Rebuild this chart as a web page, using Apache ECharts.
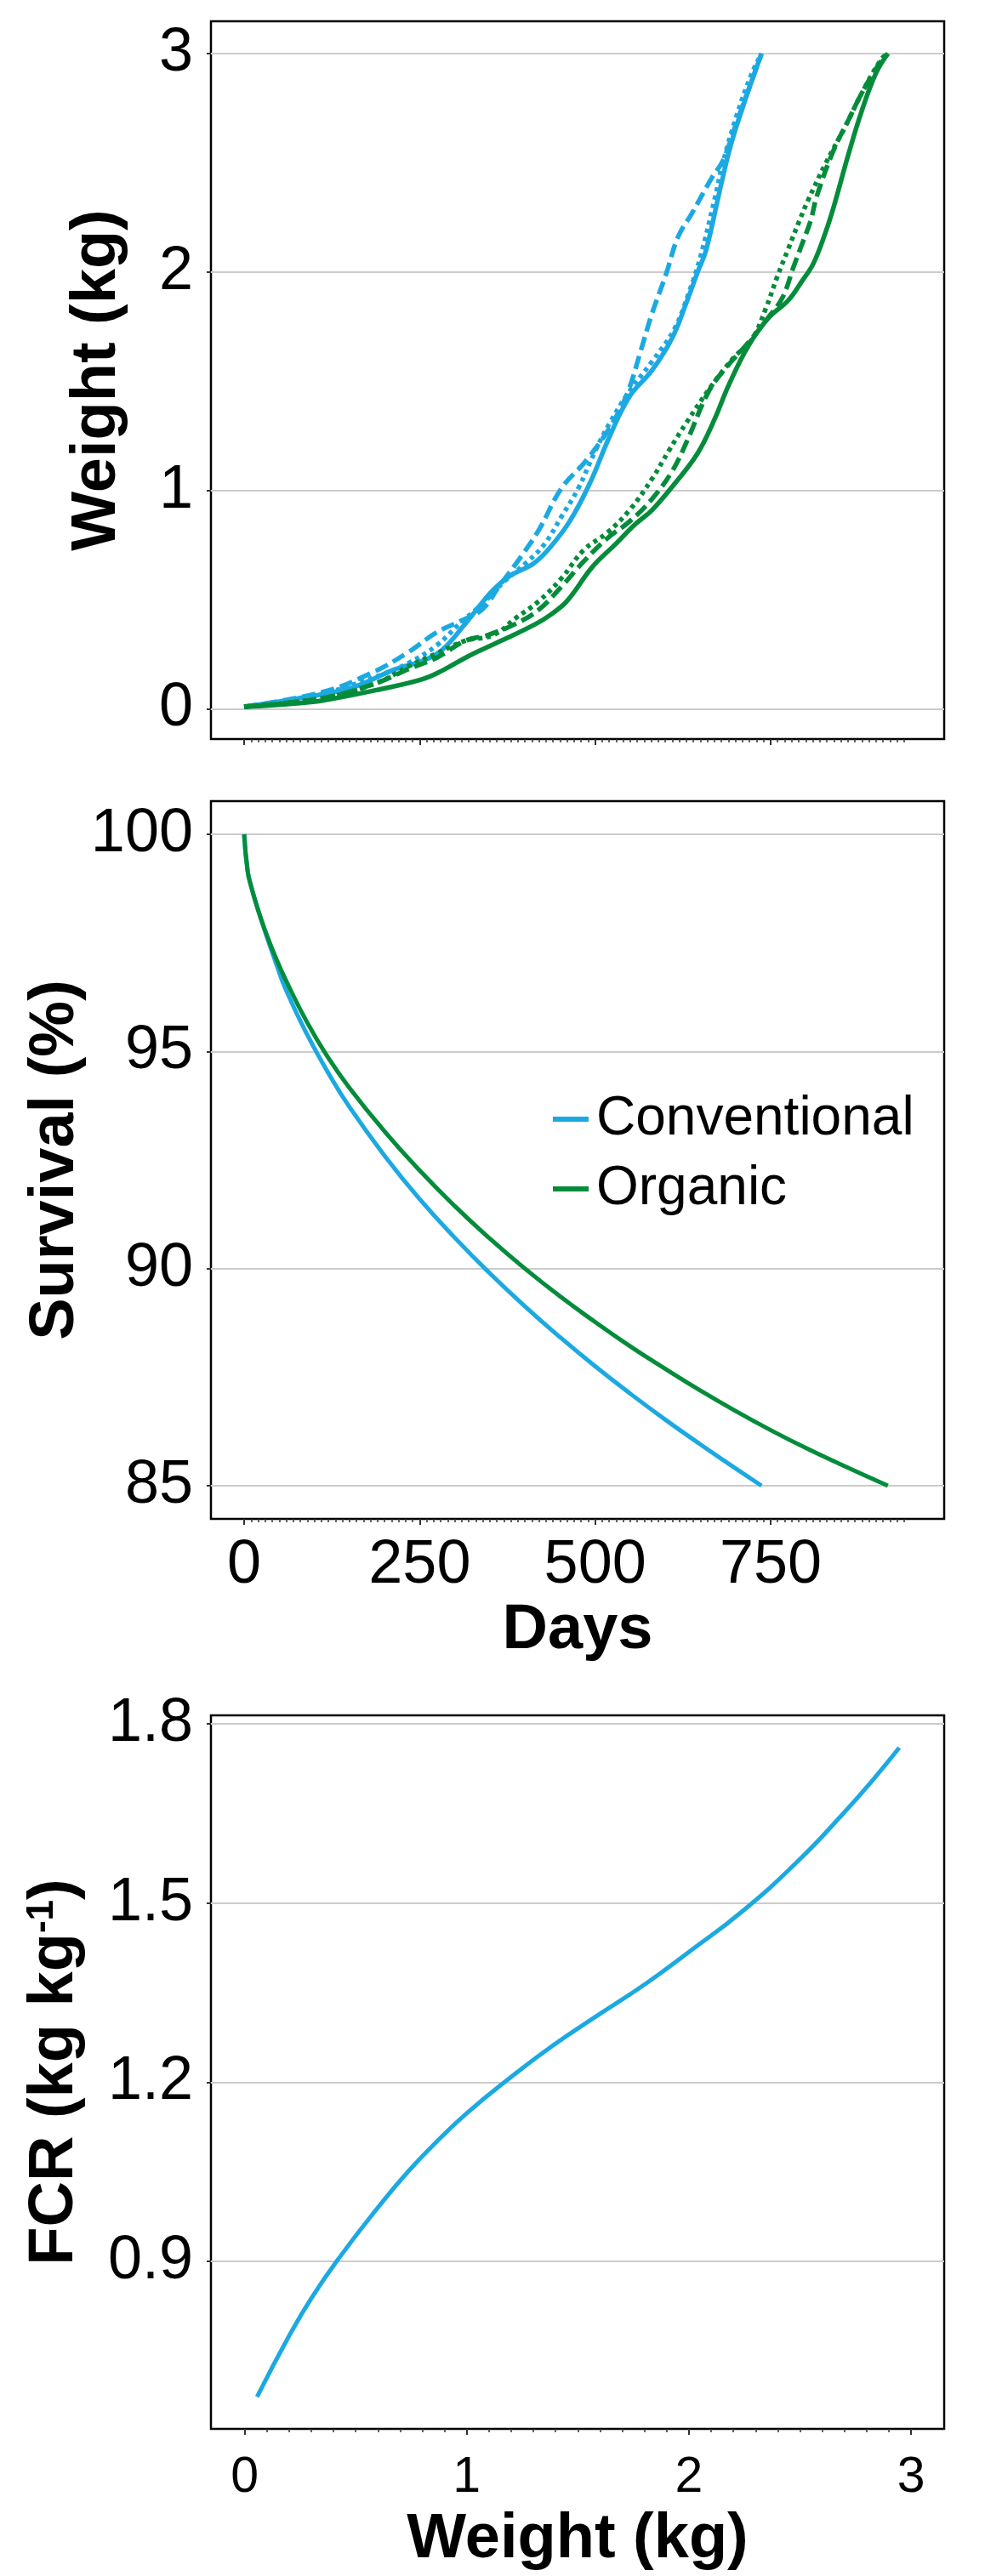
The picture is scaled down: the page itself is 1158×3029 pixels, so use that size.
<!DOCTYPE html>
<html>
<head>
<meta charset="utf-8">
<script src="https://cdn.jsdelivr.net/npm/echarts@6/dist/echarts.min.js"></script>
<style>
html,body{margin:0;padding:0;background:#fff;}
#chart{width:1158px;height:3029px;}
</style>
</head>
<body>
<div id="chart"></div>
<script>
// ---------------- data ----------------
// Panel 1: weight (kg) vs days
const convSolidDays = [0,72,153,214,254,282,315,335,355,379,412,436,464,492,521,549,581,610,630,646,658,678,694,714,737];
const convSolidKg   = [0.01,0.045,0.097,0.18,0.22,0.27,0.39,0.47,0.545,0.61,0.665,0.74,0.86,1.03,1.25,1.43,1.55,1.70,1.86,2.0,2.10,2.38,2.59,2.79,3.0];

const convDashDays = [0,113,185,234,274,307,339,363,395,420,452,488,525,547,565,581,601,618,638,666,682,702,727,737];
const convDashKg   = [0.01,0.078,0.17,0.26,0.35,0.40,0.455,0.56,0.70,0.82,1.01,1.14,1.31,1.455,1.64,1.81,1.99,2.16,2.27,2.43,2.51,2.69,2.91,3.0];

const convDotDays = [0,100,190,234,274,307,339,371,404,428,452,476,500,521,549,581,613,634,650,670,682,702,722,737];
const convDotKg   = [0.01,0.06,0.15,0.21,0.29,0.39,0.48,0.585,0.675,0.755,0.88,1.01,1.18,1.31,1.455,1.59,1.74,1.91,2.07,2.33,2.50,2.72,2.90,3.0];

const orgSolidDays = [0,72,113,194,254,282,315,335,375,416,436,460,496,529,557,581,613,646,670,690,718,747,775,795,811,828,840,860,880,900,917];
const orgSolidKg   = [0.01,0.025,0.039,0.09,0.136,0.175,0.234,0.266,0.325,0.39,0.43,0.494,0.65,0.754,0.845,0.91,1.03,1.17,1.325,1.48,1.66,1.79,1.87,1.96,2.04,2.18,2.30,2.53,2.74,2.91,3.0];

const orgDashDays = [0,113,190,234,274,315,347,387,420,452,484,517,549,581,610,630,662,686,718,747,767,783,795,807,816,840,860,880,904,917];
const orgDashKg   = [0.01,0.05,0.12,0.182,0.234,0.312,0.338,0.39,0.455,0.56,0.676,0.78,0.858,0.961,1.09,1.22,1.455,1.56,1.676,1.793,1.884,2.027,2.13,2.235,2.35,2.56,2.69,2.82,2.95,3.0];

const orgDotDays = [0,113,190,234,274,315,355,387,420,452,484,517,549,581,605,630,666,698,723,743,759,775,791,803,828,856,880,908,917];
const orgDotKg   = [0.01,0.05,0.12,0.195,0.253,0.312,0.338,0.416,0.494,0.598,0.728,0.806,0.91,1.053,1.182,1.31,1.48,1.61,1.69,1.832,1.975,2.105,2.235,2.326,2.495,2.664,2.82,2.976,3.0];

// Panel 2: survival (%) vs days
const convSurvDays = [0,5,10,20,30,45,60,90,120,150,200,250,300,350,400,450,500,550,600,650,700,737];
const convSurvPct  = [100,99.15,98.8,98.25,97.75,97.05,96.4,95.38,94.5,93.72,92.6,91.6,90.71,89.89,89.13,88.42,87.75,87.12,86.52,85.95,85.4,85.0];
const orgSurvDays = [0,5,10,20,30,45,60,90,120,150,200,250,300,350,400,450,500,550,600,650,700,750,800,850,917];
const orgSurvPct  = [100,99.15,98.8,98.25,97.78,97.16,96.62,95.66,94.85,94.16,93.16,92.26,91.44,90.69,90.0,89.36,88.77,88.21,87.69,87.19,86.72,86.28,85.87,85.49,85.0];

// Panel 3: FCR vs weight
const fcrWeight = [0.056,0.2,0.3,0.43,0.6,0.74,0.88,1.0,1.18,1.39,1.59,1.81,2.0,2.24,2.49,2.69,2.83,2.947];
const fcrValue  = [0.673,0.775,0.838,0.908,0.99,1.052,1.106,1.148,1.203,1.262,1.312,1.366,1.418,1.486,1.57,1.648,1.707,1.76];

// tick labels
const dayMajorTicks = [0,250,500,750];
const weightYTicks = [0,1,2,3];
const survYTicks = [85,90,95,100];
const fcrYTicks = [0.9,1.2,1.5,1.8];
const weightXTicks = [0,1,2,3];
const dayMinorTicks = [];
for (let d = 0; d <= 940; d += 10) dayMinorTicks.push(d);
const weightMinorTicks = [];
for (let i = 0; i <= 30; i++) weightMinorTicks.push(+(i / 10).toFixed(1));

const seriesNames = ['Conventional', 'Organic'];
// ------------------------------------------------------------------

const FONT = '"Liberation Sans", Arial, sans-serif';
const BLUE = '#1CA9E2';
const GREEN = '#048C3B';

function zip(xs, ys) { return xs.map((x, i) => [x, ys[i]]); }

const DAY_MIN = -47.3, DAY_MAX = 997.2;

function xMinor(gi, min, max, vals) {
  return {
    type: 'value', gridIndex: gi, min: min, max: max, position: 'bottom',
    axisLine: { show: false, onZero: false }, splitLine: { show: false }, axisLabel: { show: false },
    axisTick: { show: true, customValues: vals, length: 4, lineStyle: { color: '#333', width: 1.5 } }
  };
}
function xMajor(gi, min, max, vals, showLabels, fontSize, margin, name, nameGap) {
  return {
    type: 'value', gridIndex: gi, min: min, max: max, position: 'bottom',
    axisLine: { show: false, onZero: false }, splitLine: { show: false },
    axisTick: { show: true, customValues: vals, length: 7, lineStyle: { color: '#333', width: 2 } },
    axisLabel: { show: showLabels, customValues: vals, fontSize: fontSize, margin: margin, color: '#000', fontFamily: FONT },
    name: name, nameLocation: 'middle', nameGap: nameGap, nameMoveOverlap: false,
    nameTextStyle: { fontSize: 74, fontWeight: 'bold', color: '#000', fontFamily: FONT, lineHeight: 74 }
  };
}
function yAx(gi, min, max, vals, name, nameGap, extraNameStyle) {
  return {
    type: 'value', gridIndex: gi, min: min, max: max, position: 'left',
    axisLine: { show: false, onZero: false },
    axisTick: { show: true, customValues: vals, length: 5, lineStyle: { color: '#333', width: 2 } },
    axisLabel: { customValues: vals, fontSize: 72, margin: 21, color: '#000', fontFamily: FONT, padding: [8, 0, 0, 0] },
    splitLine: { show: true, lineStyle: { color: '#cccccc', width: 2 } },
    name: name, nameLocation: 'middle', nameRotate: 90, nameGap: nameGap, nameMoveOverlap: false,
    nameTextStyle: Object.assign({ fontSize: 74, fontWeight: 'bold', color: '#000', fontFamily: FONT, lineHeight: 74 }, extraNameStyle || {})
  };
}
function line(name, xi, yi, data, color, type, width, smooth) {
  return {
    name: name, type: 'line', xAxisIndex: xi, yAxisIndex: yi, data: data,
    symbol: 'none', showSymbol: false, smooth: smooth || 0.4,
    color: color, itemStyle: { color: color },
    lineStyle: { color: color, width: width || 5.5, type: type || 'solid', cap: 'butt' },
    emphasis: { disabled: true }, silent: true
  };
}

const gridBase = { show: true, borderColor: '#000', borderWidth: 2.5, backgroundColor: 'transparent', containLabel: false, outerBoundsMode: 'none' };

const option = {
  animation: false,
  backgroundColor: '#fff',
  textStyle: { fontFamily: FONT },
  grid: [
    Object.assign({ left: 248, top: 25, width: 862, height: 844 }, gridBase),
    Object.assign({ left: 248, top: 942, width: 862, height: 844 }, gridBase),
    Object.assign({ left: 248, top: 2017, width: 862, height: 839 }, gridBase)
  ],
  xAxis: [
    xMinor(0, DAY_MIN, DAY_MAX, dayMinorTicks),
    xMajor(0, DAY_MIN, DAY_MAX, dayMajorTicks, false, 72, 19, '', 0),
    xMinor(1, DAY_MIN, DAY_MAX, dayMinorTicks),
    xMajor(1, DAY_MIN, DAY_MAX, dayMajorTicks, true, 72, 19, 'Days', 95),
    xMinor(2, -0.1515, 3.149, weightMinorTicks),
    xMajor(2, -0.1515, 3.149, weightXTicks, true, 59, 28, 'Weight (kg)', 94)
  ],
  yAxis: [
    yAx(0, -0.138, 3.148, weightYTicks, 'Weight (kg)', 96),
    yAx(1, 84.236, 100.764, survYTicks, 'Survival (%)', 145),
    yAx(2, 0.6195, 1.8142, fcrYTicks, '{a|FCR (kg kg}{s|-1}{a|)}', 146, {
      rich: {
        a: { fontSize: 74, fontWeight: 'bold', color: '#000', fontFamily: FONT, lineHeight: 74 },
        s: { fontSize: 44, fontWeight: 'bold', color: '#000', fontFamily: FONT, lineHeight: 44, verticalAlign: 'top' }
      }
    })
  ],
  legend: {
    show: true, orient: 'vertical', left: 650, top: 1284, padding: 0,
    icon: 'rect', itemWidth: 42, itemHeight: 6, itemGap: 18, selectedMode: false,
    data: seriesNames,
    textStyle: { fontSize: 64, lineHeight: 64, color: '#000', fontFamily: FONT, padding: [0, 0, 0, 4] }
  },
  series: [
    line('Conventional solid', 1, 0, zip(convSolidDays, convSolidKg), BLUE, 'solid'),
    line('Conventional dashed', 1, 0, zip(convDashDays, convDashKg), BLUE, [16, 7]),
    line('Conventional dotted', 1, 0, zip(convDotDays, convDotKg), BLUE, [5, 5]),
    line('Organic solid', 1, 0, zip(orgSolidDays, orgSolidKg), GREEN, 'solid'),
    line('Organic dashed', 1, 0, zip(orgDashDays, orgDashKg), GREEN, [16, 7]),
    line('Organic dotted', 1, 0, zip(orgDotDays, orgDotKg), GREEN, [5, 5]),
    line(seriesNames[0], 3, 1, zip(convSurvDays, convSurvPct), BLUE, 'solid', 5, 0.5),
    line(seriesNames[1], 3, 1, zip(orgSurvDays, orgSurvPct), GREEN, 'solid', 5, 0.5),
    line('FCR', 5, 2, zip(fcrWeight, fcrValue), BLUE, 'solid', 5, 0.5)
  ]
};

const chart = echarts.init(document.getElementById('chart'), null, { renderer: 'canvas', width: 1158, height: 3029 });
chart.setOption(option);
</script>
</body>
</html>
